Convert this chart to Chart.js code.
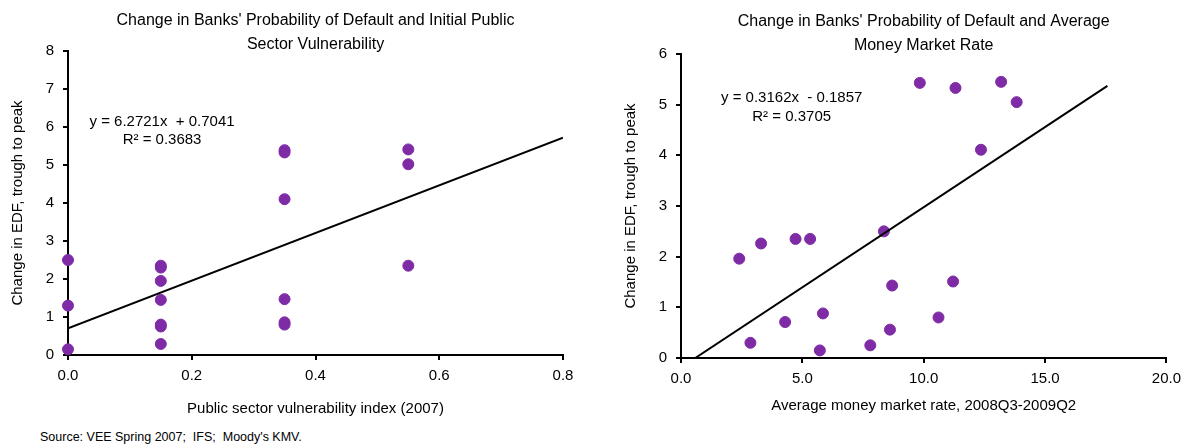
<!DOCTYPE html>
<html>
<head>
<meta charset="utf-8">
<script src="https://cdn.jsdelivr.net/npm/chart.js@4"></script>
<style>
  body { margin: 0; background: #fff; width: 1188px; height: 448px; position: relative; overflow: hidden; }
  .box { position: absolute; top: 0; width: 594px; height: 420px; }
  #src { position: absolute; left: 40px; top: 430px; font: 12.5px "Liberation Sans", Arial, sans-serif; color: #000; }
</style>
</head>
<body>
<div class="box" style="left:0"><canvas id="leftChart" width="594" height="420"></canvas></div>
<div class="box" style="left:594px"><canvas id="rightChart" width="594" height="420"></canvas></div>
<div id="src">Source: VEE Spring 2007;&nbsp; IFS;&nbsp; Moody's KMV.</div>
<script>
// left panel: public sector vulnerability index vs change in EDF
const vulnIndex = [0, 0, 0, 0.15, 0.15, 0.15, 0.15, 0.15, 0.15, 0.15, 0.35, 0.35, 0.35, 0.35, 0.35, 0.35, 0.55, 0.55, 0.55];
const vulnEdf   = [2.5, 1.3, 0.15, 2.3, 2.35, 1.95, 1.45, 0.75, 0.8, 0.29, 5.33, 5.39, 4.1, 1.47, 0.8, 0.86, 5.41, 5.02, 2.35];
const vulnSlope = 6.2721, vulnIntercept = 0.7041;
const vulnTrendX = [0, 0.8];

// right panel: average money market rate vs change in EDF
const mmRate = [2.4, 3.3, 4.72, 5.32, 2.86, 4.29, 5.85, 5.72, 7.8, 8.61, 8.7, 8.36, 10.61, 11.21, 9.84, 11.31, 13.19, 13.83, 12.36];
const mmEdf  = [1.96, 2.26, 2.35, 2.35, 0.3, 0.71, 0.88, 0.15, 0.25, 0.56, 1.43, 2.5, 0.8, 1.51, 5.43, 5.33, 5.45, 5.05, 4.11];
const mmSlope = 0.3162, mmIntercept = -0.1857;
const mmTrendX = [0.587, 17.57];

const FONT = '"Liberation Sans", Arial, sans-serif';
const PURPLE = "#7F2BA6";

// equation text drawn at data positions
const eqLabel = {
  id: "eqLabel",
  afterDraw(chart, args, opts) {
    const c = chart.ctx;
    const xs = chart.scales.x, ys = chart.scales.y;
    c.save();
    c.font = "15px " + FONT;
    c.fillStyle = "#000";
    c.textAlign = "center";
    c.textBaseline = "middle";
    const px = xs.getPixelForValue(opts.at[0]);
    c.fillText(opts.lines[0], px, ys.getPixelForValue(opts.at[1]));
    c.fillText(opts.lines[1], px, ys.getPixelForValue(opts.at[2]));
    c.restore();
  }
};

function makeChart(id, cfg) {
  const axisCommon = {
    border: { color: "#000", width: 2 },
    grid: { drawOnChartArea: false, color: "#000", lineWidth: 2, tickLength: 5 },
  };
  new Chart(document.getElementById(id), {
    type: "scatter",
    data: {
      datasets: [
        {
          type: "line",
          data: cfg.trendX.map(x => ({ x: x, y: cfg.slope * x + cfg.intercept })),
          borderColor: "#000",
          borderWidth: 2,
          pointRadius: 0,
          fill: false
        },
        {
          data: cfg.xs.map((x, i) => ({ x: x, y: cfg.ys[i] })),
          backgroundColor: PURPLE,
          borderColor: PURPLE,
          borderWidth: 1,
          pointRadius: 5.5,
          clip: false
        }
      ]
    },
    options: {
      responsive: false,
      animation: false,
      layout: { padding: { top: cfg.padTop, right: cfg.padRight, left: 0, bottom: 0 } },
      plugins: {
        legend: { display: false },
        tooltip: { enabled: false },
        title: {
          display: true,
          text: cfg.title,
          fullSize: false,
          color: "#000",
          font: { family: FONT, size: 16, weight: "normal", lineHeight: 1.45 },
          padding: { top: 0, bottom: cfg.titleGap }
        },
        eqLabel: { lines: cfg.eq, at: cfg.eqAt }
      },
      scales: {
        x: Object.assign({}, axisCommon, {
          type: "linear",
          min: cfg.xMin, max: cfg.xMax,
          ticks: {
            stepSize: cfg.xStep, color: "#000", padding: 7,
            font: { family: FONT, size: 15 },
            callback: v => Number(v).toFixed(1)
          },
          title: {
            display: true, text: cfg.xTitle, color: "#000",
            font: { family: FONT, size: 15 }, padding: { top: 0, bottom: cfg.xTitlePad }
          },
          afterFit: s => { s.height = cfg.xHeight; }
        }),
        y: Object.assign({}, axisCommon, {
          min: 0, max: cfg.yMax,
          ticks: { stepSize: 1, color: "#000", padding: 9, font: { family: FONT, size: 15 } },
          title: {
            display: true, text: "Change in EDF, trough to peak", color: "#000",
            font: { family: FONT, size: 15 }, padding: { top: cfg.yTitlePad, bottom: 0 }
          },
          afterFit: s => { s.width = cfg.yWidth; }
        })
      }
    },
    plugins: [eqLabel]
  });
}

makeChart("leftChart", {
  xs: vulnIndex, ys: vulnEdf, slope: vulnSlope, intercept: vulnIntercept, trendX: vulnTrendX,
  title: ["Change in Banks' Probability of Default and Initial Public", "Sector Vulnerability"],
  xTitle: "Public sector vulnerability index (2007)",
  xMin: 0, xMax: 0.8, xStep: 0.2, yMax: 8,
  eq: ["y = 6.2721x  + 0.7041", "R² = 0.3683"], eqAt: [0.152, 6.14, 5.66],
  padTop: 9.4, titleGap: -4.8, padRight: 31, yWidth: 68, xHeight: 65, xTitlePad: 2, yTitlePad: 9
});

makeChart("rightChart", {
  xs: mmRate, ys: mmEdf, slope: mmSlope, intercept: mmIntercept, trendX: mmTrendX,
  title: ["Change in Banks' Probability of Default and Average", "Money Market Rate"],
  xTitle: "Average money market rate, 2008Q3-2009Q2",
  xMin: 0, xMax: 20, xStep: 5, yMax: 6,
  eq: ["y = 0.3162x  - 0.1857", "R² = 0.3705"], eqAt: [4.56, 5.13, 4.76],
  padTop: 10.4, titleGap: -2.8, padRight: 21, yWidth: 87, xHeight: 62, xTitlePad: 5, yTitlePad: 28
});
</script>
</body>
</html>
